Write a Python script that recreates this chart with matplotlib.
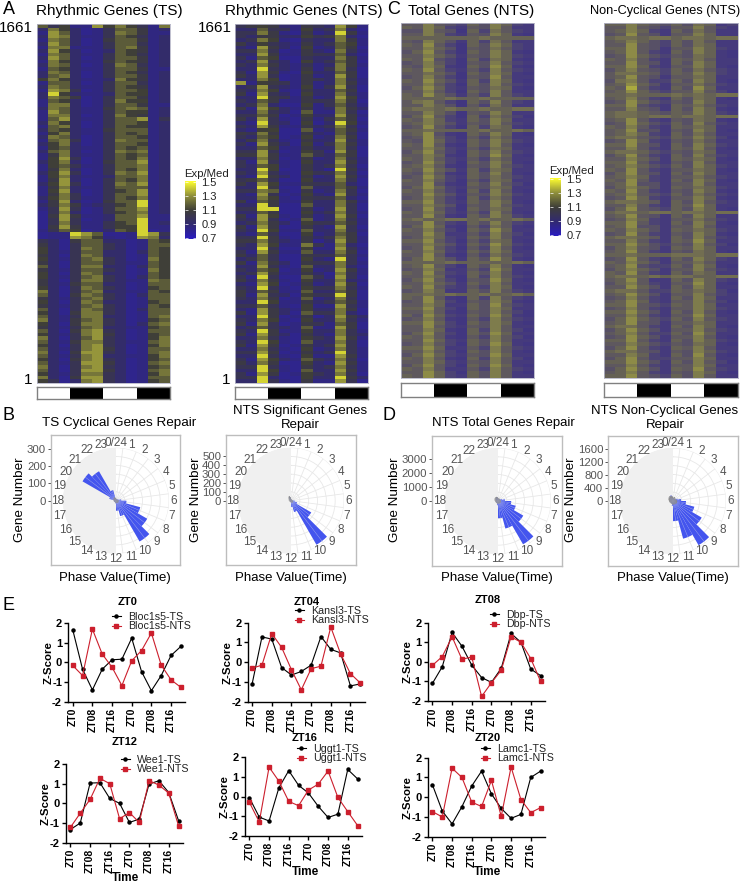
import matplotlib
matplotlib.use('Agg')
import matplotlib.pyplot as plt
import numpy as np
from matplotlib.colors import LinearSegmentedColormap

plt.rcParams['font.family'] = ['Liberation Sans', 'DejaVu Sans']

W = 741
H = 884

# heatmap rows, one digit per column, digit = index into HEAT_LEVELS
HEAT_LEVELS = [0.83, 0.86, 0.92, 1.0, 1.05, 1.1, 1.17, 1.24, 1.31, 1.42]

HEAT_TS = [
    "635118575317", "275201366412", "186201376411", "287211365312", "176201466412",
    "286201366312", "177111367412", "285201265412", "176211365312", "286201366412",
    "175211465412", "276201376312", "165211366411", "276201365312", "267201366412",
    "575211275412", "166201366312", "276211365412", "187301366512", "295211265512",
    "276401366412", "165201375512", "177201366411", "276211467612", "186211365512",
    "177201375412", "168211366813", "275201366512", "167201365512", "265211466612",
    "157211365612", "276201366512", "167301376612", "257201366512", "156211365612",
    "267201376712", "147211365612", "158301365712", "257201466812", "156311366712",
    "147201365712", "258301376812", "157211266712", "148201365712", "258301376812",
    "147211366612", "158201356812", "147301366812", "257311365712", "148201466912",
    "247412356912", "138301366812", "037201356712", "048411266811", "038301266911",
    "037311356912", "048411355911", "136501265901", "011986001983", "011875101872",
    "320466220165", "420366320166", "520376320165", "521366220265", "420376220165",
    "521367320175", "420366321165", "620377220265", "421366320175", "520376220165",
    "521367320265", "420377321176", "421466220166", "520376320156", "720367221165",
    "620476320266", "421367320166", "520376220156", "421367320165", "620376320266",
    "520477320166", "621377220167", "721467320156", "520477320267", "421367221156",
    "620478320166", "521378420156", "720368320157", "621477321167", "520378320157",
    "621378420166", "720488320167", "621378221157", "520478320156", "621388420167",
    "720378320156", "620388420167", "521377320157", "720488320166", "530278320156",
]

HEAT_NTS = [
    "345421432851", "226331523720", "337410412941", "324422534720", "237510322741",
    "425321423651", "218420512640", "337301421731", "228411433620", "316500322741",
    "238320523640", "327421312741", "229321413730", "318410522640", "428301412840",
    "227501432731", "815431412741", "238321513830", "327510422640", "418320522731",
    "229431412851", "326411433740", "237200513631", "418521412742", "227320611730",
    "336401522841", "428310413640", "219320502951", "328411423730", "215500612641",
    "437400421630", "326501512740", "247310422831", "318420513741", "226511422730",
    "338301531840", "448411632640", "227401412731", "318310522841", "326510423730",
    "229500420941", "328310533730", "219420412841", "346300522730", "428511433620",
    "229400622641", "337610412730", "218301521831", "227510433620", "416411522741",
    "229400622730", "339900412830", "226400523731", "418510412840", "328301612731",
    "237420533641", "418400421830", "329511622731", "216300512640", "339410423741",
    "447421402841", "328511731720", "229300511831", "318411622740", "426300433631",
    "236300521930", "417420433731", "228310622720", "326501512841", "238411420731",
    "319300631830", "427410522721", "218501412840", "329310533731", "426411622640",
    "418320533940", "327401612730", "229511423641", "336310511831", "218421522740",
    "418420633720", "229401402842", "327510522731", "418301431640", "236321611840",
    "329411522731", "418420421732", "227310532841", "329510622730", "418401423830",
    "227310512731", "338401423931", "229310511841", "318521632730", "427400521841",
    "339310423731", "229510622841", "318401532730", "339200522942", "229310411830",
]

HEAT_TOTAL = [
    "447432537521", "547521437411", "337430526421", "447521437510", "555555565555",
    "437531526411", "548420537521", "447530436421", "358420537510", "447531437521",
    "548320526510", "347420437421", "437510538510", "548421427421", "446530537510",
    "347420438411", "548531527510", "447420537421", "358521436510", "447420537411",
    "548531427421", "555565565555", "467420537421", "447530426411", "566565565566",
    "447530437511", "358420526420", "547521537511", "457531437421", "348420526510",
    "556555565565", "458310537510", "348420426411", "438521537521", "548410537410",
    "447521426511", "358420537421", "447510538510", "547421426411", "348520537510",
    "457410437421", "548531526511", "437410537410", "348521536421", "547420426511",
    "448310537420", "358521436511", "547420527410", "448531437521", "347420526411",
    "558421537510", "447530437421", "348420536511", "547521427410", "448410537521",
    "565566565565", "448421537421", "358510426410", "547420538511", "448511427420",
    "347521537411", "558420426510", "447531538521", "348420427410", "547521537511",
    "448410426421", "358531538510", "555565555565", "458420537410", "347511428511",
    "548421537410", "447510527421", "358420438510", "447531537411", "548421427510",
    "347511537421", "556565565565", "548410527421", "348520437510", "447511538421",
    "558420537511", "447410437420", "538521538510", "347410427421", "558520537510",
    "448421437411", "447510527420", "358420538511", "547410427420", "448521537411",
    "347420538510", "558511427421", "447420537410", "358521438511", "547410527420",
    "447521437411", "358420538510", "547411427421", "448520537410", "548521537411",
]

HEAT_NONCYC = [
    "557543536512", "447432447421", "457521536411", "348431447511", "566566566566",
    "457532536411", "448432536511", "558431447521", "458421537510", "348532436510",
    "547421546411", "448431537511", "558521447510", "357432536421", "466542547521",
    "458431446511", "367422537510", "458531446421", "549421538511", "458532447420",
    "556555656566", "457421536510", "348532437511", "558321546421", "447431537510",
    "566543547521", "566566566566", "458421436510", "348532537421", "547421546511",
    "458331437510", "457521536411", "566432547520", "348521436411", "558431537521",
    "447421547410", "566532436511", "358421537421", "447531546510", "558421437411",
    "457532537521", "548421446510", "358431537511", "457521446421", "548421537510",
    "458331447411", "357531546521", "548421437510", "457432536421", "348521447510",
    "566541537421", "447421548511", "358432537510", "566566566566", "458431537511",
    "347521446421", "558421537510", "458331447411", "547531546521", "348421437510",
    "566541537421", "447421548511", "558532437420", "357431547511", "458421436510",
    "556555666566", "348421537521", "547531446411", "458322537510", "357531447421",
    "548421536511", "566565665566", "458411537521", "357421448510", "448531537511",
    "566422546520", "458531447421", "347421537511", "458521447420", "558432547511",
    "347421447521", "558531537410", "447421448511", "358532537421", "458431446511",
    "566421537510", "358531447421", "457422538511", "348531447410", "558421537521",
    "447532436510", "358421547411", "566431437521", "447521538410", "358422447511",
    "558531537420", "447421447511", "358531548421", "457421437510", "558432537411",
]

# white / black bar under the heatmaps
LIGHT_DARK = [0, 1, 0, 1]

CBAR_TICKS = [0.7, 0.9, 1.1, 1.3, 1.5]

HOURS = ["0/24"] + [str(h) for h in range(1, 24)]

# gene counts per hour bin (bin h runs from h to h+1)
TS_COUNTS = [10, 10, 10, 10, 15, 30, 60, 145, 208, 272, 92, 58, 15, 10, 10, 10, 10, 10, 10, 40, 223, 196, 63, 15]
NTS_COUNTS = [10, 10, 10, 10, 10, 15, 40, 70, 260, 565, 130, 70, 15, 10, 10, 10, 10, 10, 10, 10, 15, 25, 45, 30]
TOTAL_COUNTS = [150, 150, 150, 200, 300, 500, 950, 1320, 2100, 3600, 2050, 1240, 300, 150, 150, 150, 150, 150, 150, 150, 200, 250, 300, 250]
NONCYC_COUNTS = [80, 80, 80, 100, 150, 250, 400, 680, 1020, 1570, 1200, 620, 150, 80, 80, 80, 80, 80, 80, 80, 120, 150, 180, 130]

# little grey blob in the middle of each rose
TS_GREY = [12, 10, 10, 10, 12, 15, 16, 16, 16, 15, 15, 14, 14, 10, 10, 10, 12, 14, 15, 16, 18, 20, 22, 16]
NTS_GREY = [20, 20, 15, 15, 15, 20, 25, 25, 25, 25, 25, 20, 20, 15, 15, 15, 20, 20, 25, 25, 35, 45, 55, 40]
TOTAL_GREY = [210, 210, 190, 180, 190, 210, 210, 220, 220, 210, 190, 190, 210, 190, 180, 180, 190, 210, 240, 270, 300, 320, 320, 270]
NONCYC_GREY = [110, 130, 110, 100, 110, 120, 130, 130, 130, 120, 110, 110, 110, 100, 100, 100, 110, 120, 130, 150, 170, 180, 170, 140]

ZT_POS = list(range(12))
ZT_TICKS = [0, 2, 4, 6, 8, 10]
ZT_LABELS = ["ZT0", "ZT08", "ZT16", "ZT0", "ZT08", "ZT16"]

BLOC_TS = [1.66, -0.35, -1.4, -0.35, 0.13, 0.16, 1.23, -0.47, -1.44, -0.67, 0.35, 0.81]
BLOC_NTS = [-0.16, -0.67, 1.69, 0.42, -0.25, -1.18, 0.08, 0.6, 1.49, -0.14, -0.89, -1.27]
KANSL_TS = [-1.1, 1.28, 1.17, -0.27, -0.65, -0.47, -0.15, 1.3, 0.65, 0.47, -1.2, -1.1]
KANSL_NTS = [-0.3, -0.15, 1.45, 0.75, -0.38, -1.4, -0.33, -0.2, 1.78, 0.42, -0.58, -1.05]
DBP_TS = [-1.1, -0.25, 1.5, 0.8, -0.17, -0.8, -1.05, -0.33, 1.45, 1.0, -0.37, -0.7]
DBP_NTS = [-0.18, 0.27, 1.28, 0.13, 0.25, -1.77, -1.07, -0.43, 1.28, 1.0, 0.17, -1.0]
WEE_TS = [-1.33, -1.0, 1.03, 1.05, 0.25, 0.0, -0.97, -0.8, 0.98, 1.15, 0.55, -0.88]
WEE_NTS = [-1.22, -0.5, 0.2, 1.27, 1.0, -0.78, -0.47, -0.97, 1.15, 0.93, 0.52, -1.15]
UGGT_TS = [-0.07, -1.05, -1.25, 0.45, 1.32, 0.57, 0.18, -0.5, -1.07, -0.9, 1.38, 0.9]
UGGT_NTS = [-0.3, -1.3, 1.5, 0.78, -0.25, -0.47, 0.33, 0.63, 1.3, -0.05, -0.77, -1.48]
LAMC_TS = [0.63, -0.7, -1.35, -0.48, 0.57, 1.32, 0.17, -0.57, -1.07, -0.87, 1.0, 1.32]
LAMC_NTS = [-0.73, -1.0, 1.47, 1.0, -0.25, -0.47, 0.85, -0.97, 1.53, -0.12, -0.78, -0.53]

fig = plt.figure(figsize=(W / 100, H / 100), dpi=100)

dark_cmap = LinearSegmentedColormap.from_list(
    'expmed', [(0, '#2a1cc0'), (0.25, '#322a70'), (0.5, '#3f3f38'), (0.75, '#8f8f3c'), (1, '#ffff30')])
# the C panels look washed out in the reference
pale_cmap = LinearSegmentedColormap.from_list(
    'expmed_pale', [(0, '#33248f'), (0.25, '#4a4078'), (0.5, '#656156'), (0.75, '#8a8848'), (1, '#c0c03a')])


def pxAxes(x0, y0, x1, y1, **kw):
    return fig.add_axes([x0 / W, 1 - y1 / H, (x1 - x0) / W, (y1 - y0) / H], **kw)


def pxText(x, y, s, **kw):
    kw.setdefault('ha', 'center')
    kw.setdefault('va', 'center')
    fig.text(x / W, 1 - y / H, s, **kw)


def drawHeat(rows, x0, y0, x1, y1, bar_y0, bar_y1, cmap):
    grid = np.array([[HEAT_LEVELS[int(c)] for c in r] for r in rows])
    ax = pxAxes(x0, y0, x1, y1)
    ax.imshow(grid, aspect='auto', cmap=cmap, vmin=0.7, vmax=1.5, interpolation='nearest')
    ax.set_xticks([])
    ax.set_yticks([])
    for s in ax.spines.values():
        s.set_color('#b5b5c8')
        s.set_linewidth(0.6)
    bar = pxAxes(x0, bar_y0, x1, bar_y1)
    bar.imshow([LIGHT_DARK], aspect='auto', cmap='Greys', vmin=0, vmax=1, interpolation='nearest')
    bar.set_xticks([])
    bar.set_yticks([])
    for s in bar.spines.values():
        s.set_color('#808080')
        s.set_linewidth(1.0)


def drawCbar(x0, y0, x1, y1):
    ax = pxAxes(x0, y0, x1, y1)
    vals = np.linspace(1.5, 0.7, 100).reshape(-1, 1)
    ax.imshow(vals, aspect='auto', cmap=dark_cmap, vmin=0.7, vmax=1.5, extent=[0, 1, 0.68, 1.52])
    ax.set_xticks([])
    ax.yaxis.tick_right()
    ax.set_yticks(CBAR_TICKS)
    ax.set_yticklabels([str(t) for t in CBAR_TICKS], fontsize=8, color='#222222')
    ax.tick_params(axis='y', direction='in', left=True, right=True, length=2, width=0.5, color='white', pad=4)
    for s in ax.spines.values():
        s.set_visible(False)
    pxText((x0 + x1) / 2 + 16, y0 - 7, "Exp/Med", fontsize=8.2, color='#222222')


def drawRose(counts, grey, cx, cy, box, rticks, r_for_top, px_for_top):
    per_px = r_for_top / px_for_top
    rmax = 53 * per_px
    box_ax = pxAxes(*box)
    box_ax.set_xlim(0, 1)
    box_ax.set_ylim(-(box[3] - cy) * per_px, (cy - box[1]) * per_px)
    box_ax.set_xticks([])
    box_ax.set_yticks(rticks)
    box_ax.set_yticklabels([str(t) for t in rticks], fontsize=8.2, color='#555555')
    box_ax.tick_params(axis='y', length=2.5, width=0.7, pad=1, color='#555555')
    for s in box_ax.spines.values():
        s.set_color('#bdbdbd')
        s.set_linewidth(1.0)

    ax = pxAxes(cx - 53, cy - 53, cx + 53, cy + 53, projection='polar')
    ax.set_facecolor('none')
    ax.set_theta_zero_location('N')
    ax.set_theta_direction(-1)
    ax.set_ylim(0, rmax)
    ax.spines['polar'].set_visible(False)
    ax.set_xticks([])
    ax.set_yticks(np.linspace(0, rmax, 7)[1:])
    ax.set_yticklabels([])
    ax.set_axisbelow(True)
    ax.yaxis.grid(True, color='#e8e8e8', linewidth=0.6)
    ax.xaxis.grid(False)

    to_theta = 2 * np.pi / 24
    # spokes in the white half, grey half covers the rest
    for h in range(12):
        ax.plot([(h + 0.5) * to_theta] * 2, [0, rmax], color='#e8e8e8', lw=0.6, zorder=0.7)
    ax.bar(18 * to_theta, rmax, width=np.pi, color='#f0f0f0', zorder=1)

    hours = np.arange(24)
    ax.bar((hours + 0.5) * to_theta, counts, width=to_theta, color='#4455ee', zorder=3)
    for h in hours:
        ax.plot([(h + 0.5) * to_theta] * 2, [0, counts[h]], color='#a8b0e8', lw=0.3, zorder=4)
    ax.bar((hours + 0.5) * to_theta, grey, width=to_theta, color='#8a8a8a', zorder=5)

    for h in hours:
        ax.text(h * to_theta, rmax * 58 / 53, HOURS[h], fontsize=8.5, color='#555555',
                ha='center', va='center', clip_on=False)


def drawLines(ts, nts, name, x0, y_top, y_bot, title, title_xy, leg_xy, time_xy):
    ax = pxAxes(x0, y_top, x0 + 117, y_bot)
    ax.plot(ZT_POS, ts, color='black', lw=0.8, marker='o', ms=2.2, label=name + '-TS')
    ax.plot(ZT_POS, nts, color='#cc1f2d', lw=0.8, marker='s', ms=2.2, label=name + '-NTS')
    ax.set_xlim(-0.45, 11.45)
    ax.set_ylim(-2, 2)
    ax.set_xticks(ZT_TICKS)
    ax.set_xticklabels(ZT_LABELS, rotation=90, fontsize=7.5, fontweight='bold')
    ax.set_yticks([-2, -1, 0, 1, 2])
    ax.set_yticklabels(['-2', '-1', '0', '1', '2'], fontsize=8, fontweight='bold')
    ax.tick_params(length=3, width=1, pad=1.5)
    ax.spines['top'].set_visible(False)
    ax.spines['right'].set_visible(False)
    ax.spines['left'].set_linewidth(1)
    ax.spines['bottom'].set_linewidth(1)
    pxText(x0 - 20, (y_top + y_bot) / 2, "Z-Score", rotation=90, fontsize=8.2, fontweight='bold')
    pxText(title_xy[0], title_xy[1], title, fontsize=8, fontweight='bold')
    if time_xy:
        pxText(time_xy[0], time_xy[1], "Time", fontsize=8.5, fontweight='bold')
    ax.legend(loc='upper left', bbox_to_anchor=(leg_xy[0] / W, 1 - leg_xy[1] / H),
              bbox_transform=fig.transFigure, frameon=False, fontsize=7.7, borderpad=0,
              labelspacing=-0.05, handlelength=0.8, handletextpad=0.7, borderaxespad=0,
              labelcolor='#222222')


# heatmaps
drawHeat(HEAT_TS, 37, 24, 170, 383, 387, 399, dark_cmap)
drawHeat(HEAT_NTS, 235, 24, 368, 383, 387, 399, dark_cmap)
drawHeat(HEAT_TOTAL, 401, 23, 534, 378, 383, 397, pale_cmap)
drawHeat(HEAT_NONCYC, 604, 23, 738, 378, 383, 397, pale_cmap)
drawCbar(185, 181, 196, 239)
drawCbar(550, 178, 561, 236)

pxText(109, 11, "Rhythmic Genes (TS)", fontsize=11)
pxText(304, 11, "Rhythmic Genes (NTS)", fontsize=11)
pxText(471, 11, "Total Genes (NTS)", fontsize=11)
pxText(665, 11, "Non-Cyclical Genes (NTS)", fontsize=9.2)
pxText(16, 28, "1661", fontsize=11)
pxText(215, 28, "1661", fontsize=11)
pxText(28, 380, "1", fontsize=11)
pxText(226, 380, "1", fontsize=11)

pxText(9, 9, "A", fontsize=13)
pxText(394, 9, "C", fontsize=13)
pxText(8, 415, "B", fontsize=13)
pxText(389, 415, "D", fontsize=13)
pxText(8, 605, "E", fontsize=13)

# roses
drawRose(TS_COUNTS, TS_GREY, 116, 500.7, (51, 435, 180, 565), [0, 100, 200, 300], 300, 52)
drawRose(NTS_COUNTS, NTS_GREY, 291, 500.7, (226, 435, 356, 565), [0, 100, 200, 300, 400, 500], 500, 45)
drawRose(TOTAL_COUNTS, TOTAL_GREY, 498, 501, (432, 436, 562, 566), [0, 1000, 2000, 3000], 3000, 41.7)
drawRose(NONCYC_COUNTS, NONCYC_GREY, 673, 501, (608, 436, 738, 566), [0, 400, 800, 1200, 1600], 1600, 52)

pxText(119, 423, "TS Cyclical Genes Repair", fontsize=9.7)
pxText(300, 418, "NTS Significant Genes\nRepair", fontsize=9.5, linespacing=1.25)
pxText(503, 423, "NTS Total Genes Repair", fontsize=9.5)
pxText(665, 418, "NTS Non-Cyclical Genes\nRepair", fontsize=9.5, linespacing=1.25)
for x in [115, 291, 497, 673]:
    pxText(x, 578, "Phase Value(Time)", fontsize=9.5)
for x in [20, 196, 395, 571]:
    pxText(x, 500, "Gene Number", fontsize=9.7, rotation=90)

# line panels
drawLines(BLOC_TS, BLOC_NTS, 'Bloc1s5', 68.3, 623, 701.7, 'ZT0', (128, 602), (112, 612), None)
drawLines(KANSL_TS, KANSL_NTS, 'Kansl3', 247.7, 622.7, 701.7, 'ZT04', (307, 602), (295, 606), None)
drawLines(DBP_TS, DBP_NTS, 'Dbp', 428, 622.7, 701, 'ZT08', (488, 600), (490, 610), None)
drawLines(WEE_TS, WEE_NTS, 'Wee1', 66, 764, 842.7, 'ZT12', (125, 742), (121, 755), (125, 878))
drawLines(UGGT_TS, UGGT_NTS, 'Uggt1', 245, 757.3, 835.7, 'ZT16', (305, 738), (297, 744), (305, 872))
drawLines(LAMC_TS, LAMC_NTS, 'Lamc1', 428, 757.7, 836.7, 'ZT20', (488, 738), (481, 744), (488, 872))

fig.savefig('out.png', dpi=100)
